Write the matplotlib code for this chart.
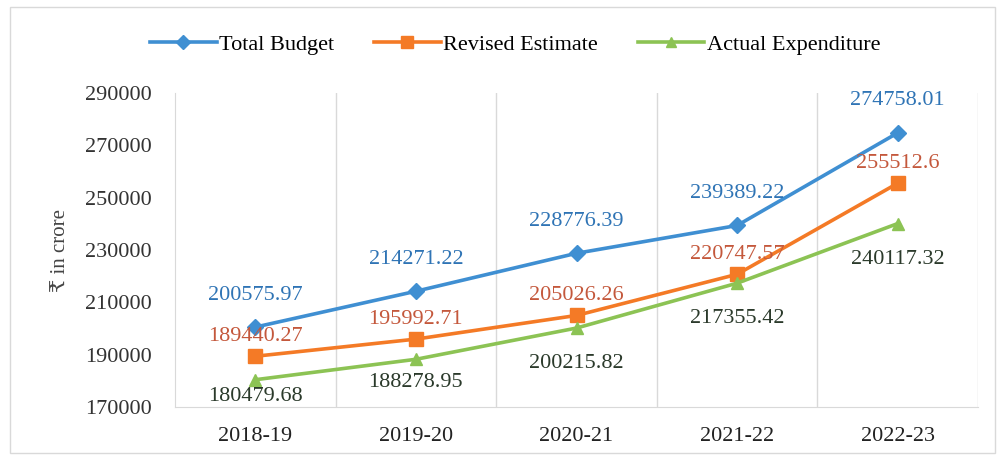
import matplotlib.pyplot as plt
from matplotlib.lines import Line2D
from matplotlib.patches import Rectangle

# data
years = ["2018-19", "2019-20", "2020-21", "2021-22", "2022-23"]
total_budget = [200575.97, 214271.22, 228776.39, 239389.22, 274758.01]
revised_estimate = [189440.27, 195992.71, 205026.26, 220747.57, 255512.6]
actual_expenditure = [180479.68, 188278.95, 200215.82, 217355.42, 240117.32]

serif = ["Liberation Serif", "DejaVu Serif", "DejaVu Sans"]
plt.rcParams["font.family"] = serif
fs = 16

fig = plt.figure(figsize=(10, 4.58), dpi=100)
ax = fig.add_axes([0.175, 0.111, 0.803, 0.686])

x = list(range(len(years)))

series = [
    ("Total Budget", total_budget, "#3f8fd2", "D", 8, "#2f74b5", [32] * 5),
    ("Revised Estimate", revised_estimate, "#f47a26", "s", 10, "#c4583c", [20] * 5),
    ("Actual Expenditure", actual_expenditure, "#8cc354", "^", 8, "#2b3a2b", [-17, -23, -35, -35, -36]),
]

handles = []
for name, vals, col, mk, ms, lcol, offs in series:
    ax.plot(x, vals, color=col, lw=2.6, marker=mk, markersize=ms, zorder=3)
    for xi, v, o in zip(x, vals, offs):
        ax.annotate(str(v), (xi, v), xytext=(0, o), textcoords="offset pixels",
                    ha="center", va="center", fontsize=fs, color=lcol, zorder=4)
    handles.append(Line2D([], [], color=col, lw=2.6, marker=mk, markersize=ms - 1, label=name))

ax.set_xlim(-0.5, len(years) - 0.5)
ax.set_ylim(170000, 290000)
ax.set_yticks(range(170000, 290001, 20000))
ax.set_xticks(x)
ax.set_xticklabels(years, fontsize=fs)
ax.set_xticks([i - 0.5 for i in range(1, len(years) + 1)], minor=True)
ax.grid(which="minor", axis="x", color="#d9d9d9", lw=1)
ax.tick_params(axis="both", which="both", length=0)
ax.tick_params(axis="y", labelsize=fs, pad=17, labelcolor="#333333")
ax.tick_params(axis="x", pad=14, labelcolor="#222222")

for s in ["top", "right"]:
    ax.spines[s].set_visible(False)
for s in ["left", "bottom"]:
    ax.spines[s].set_color("#d9d9d9")

ax.set_ylabel("₹ in crore", fontsize=fs - 1, color="#444444", labelpad=10)

fig.legend(handles=handles, loc="center", bbox_to_anchor=(0.515, 0.902), ncol=3,
           frameon=False, fontsize=fs, handlelength=3.0, columnspacing=1.8,
           handletextpad=0.1)

fig.patches.append(Rectangle((0.01, 0.01), 0.985, 0.975, transform=fig.transFigure,
                             fill=False, edgecolor="#d9d9d9", lw=1))

fig.savefig("out.png", dpi=100)
